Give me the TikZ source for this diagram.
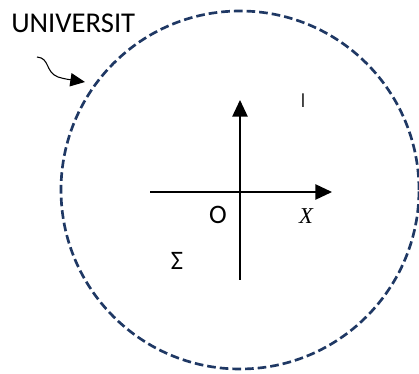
\documentclass[tikz,border=0pt]{standalone}
\usepackage{fontspec}
\setmainfont{Carlito}
\newfontfamily\serifit{Liberation Serif}
\usepackage{xcolor}
\usetikzlibrary{arrows.meta,positioning}
\definecolor{rim}{HTML}{1F3864}

\begin{document}
\begin{tikzpicture}[
    x=0.75pt,y=-0.75pt,
    lbl/.style={inner sep=0pt,font=\fontsize{20}{22}\selectfont},
    rimline/.style={draw=rim,line width=2pt,dash pattern=on 6.5pt off 3pt},
    axis/.style={line width=1.2pt,-{Triangle[length=12.5pt,width=11.5pt]}},
    pointer/.style={line width=0.8pt,-{Triangle[length=11pt,width=10pt]}}
  ]
    \useasboundingbox (0,0) rectangle (419,374);
    \node[rimline,circle,inner sep=0pt,outer sep=0pt,minimum size=268.5pt] (univ) at (240,190) {};
    \node[lbl,anchor=base west,font=\fontsize{21.5}{24}\selectfont] (name) at (11,33) {UNIVERSIT};
    \node[lbl] (orig) at (218,215) {O};
    \node[lbl,font=\fontsize{17}{19}\serifit\itshape] (xlbl) at (306,216) {X};
    \node[lbl] (sig) at (177,261) {Σ};
    \node[lbl,font=\fontsize{16}{18}\selectfont,text=black!75] (mark) at (303,100.5) {I};
    \coordinate (xl) at (150,192);
    \coordinate (xr) at (332,192);
    \coordinate (yb) at (240,280);
    \coordinate (yt) at (240,100);
    \coordinate (tail) at (37,57);
    \coordinate (tip) at (85,82);
    \draw[axis] (xl) -- (xr);
    \draw[axis] (yb) -- (yt);
    \draw[pointer] (tail) .. controls (50,58) and (45,72) .. (58,77) .. controls (64,79) and (72,80) .. (tip);
  \end{tikzpicture}
\end{document}
